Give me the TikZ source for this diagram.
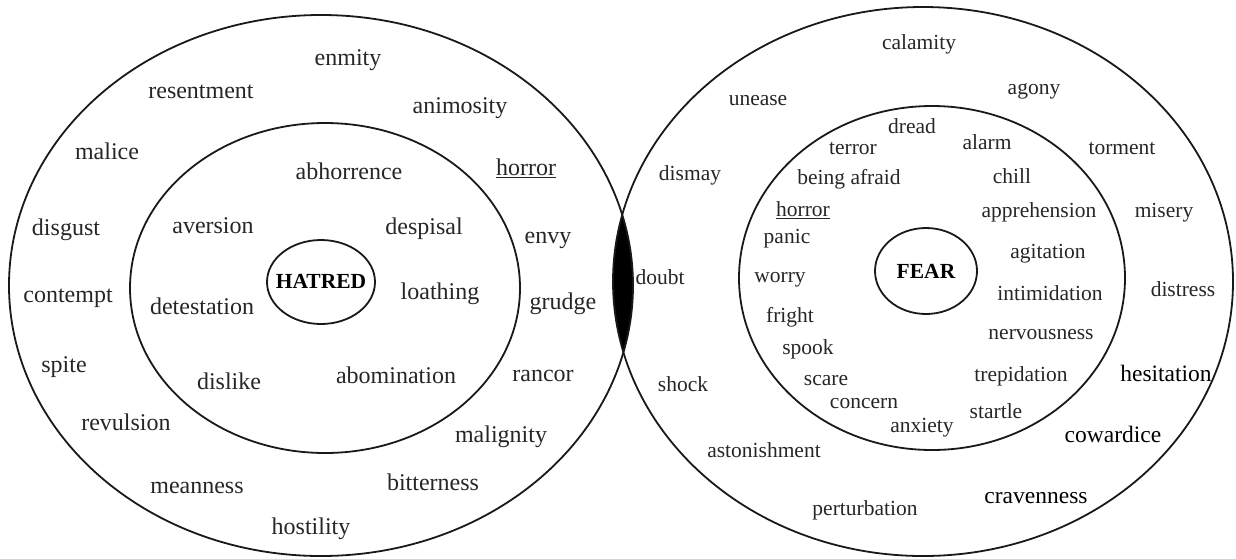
\documentclass[tikz,border=0pt]{standalone}
\usepackage{fontspec}
\setmainfont{Liberation Serif}
\begin{document}
\begin{tikzpicture}[x=1pt,y=-1pt,
  ring/.style={line width=1.8pt, draw=black!90},
  wl/.style={font=\fontsize{24}{28}\selectfont, inner sep=0pt, text=black!85, text height=0.68em, text depth=0.2em, yshift=-5pt},
  wr/.style={font=\fontsize{21.5}{26}\selectfont, inner sep=0pt, text=black!85, text height=0.68em, text depth=0.2em, yshift=-5pt},
  wb/.style={font=\fontsize{23.5}{28}\selectfont, inner sep=0pt, text=black, text height=0.68em, text depth=0.2em, yshift=-5pt},
  core/.style={font=\bfseries\fontsize{21.5}{26}\selectfont, inner sep=0pt, text=black}]
\useasboundingbox (0,0) rectangle (1236,558);
% lens
\begin{scope}
  \clip (321,285.5) ellipse [x radius=312pt, y radius=270.5pt];
  \fill[black] (923,281.5) ellipse [x radius=310pt, y radius=274.5pt];
\end{scope}
% rings
\draw[ring] (321,285.5) ellipse [x radius=312pt, y radius=270.5pt];
\draw[ring] (923,281.5) ellipse [x radius=310pt, y radius=274.5pt];
\draw[ring] (325,288) ellipse [x radius=195pt, y radius=165pt];
\draw[ring] (932,278) ellipse [x radius=193pt, y radius=172pt];
\draw[ring] (321,282) ellipse [x radius=54pt, y radius=42pt];
\draw[ring] (926,271) ellipse [x radius=51pt, y radius=43pt];
% centre labels
\node[core] (hatred) at (321,281) {HATRED};
\node[core] (fear) at (926,271) {FEAR};
% left outer
\node[wl] (enmity) at (348,58) {enmity};
\node[wl] (resentment) at (201,91) {resentment};
\node[wl] (animosity) at (460,106) {animosity};
\node[wl] (malice) at (107,152) {malice};
\node[wl] (horrorL) at (526,168) {\underline{horror}};
\node[wl] (disgust) at (66,228) {disgust};
\node[wl] (envy) at (548,236) {envy};
\node[wl] (contempt) at (68,295) {contempt};
\node[wl] (grudge) at (563,302) {grudge};
\node[wl] (spite) at (64,365) {spite};
\node[wl] (rancor) at (543,374) {rancor};
\node[wl] (revulsion) at (126,423) {revulsion};
\node[wl] (malignity) at (501,435) {malignity};
\node[wl] (meanness) at (197,486) {meanness};
\node[wl] (bitterness) at (433,483) {bitterness};
\node[wl] (hostility) at (311,527) {hostility};
% left inner
\node[wl] (abhorrence) at (349,172) {abhorrence};
\node[wl] (aversion) at (213,226) {aversion};
\node[wl] (despisal) at (424,227) {despisal};
\node[wl] (loathing) at (440,292) {loathing};
\node[wl] (detestation) at (202,307) {detestation};
\node[wl] (dislike) at (229,382) {dislike};
\node[wl] (abomination) at (396,376) {abomination};
% right outer
\node[wr] (calamity) at (919,42) {calamity};
\node[wr] (agony) at (1034,87) {agony};
\node[wr] (unease) at (758,98) {unease};
\node[wr] (torment) at (1122,147) {torment};
\node[wr] (dismay) at (690,173) {dismay};
\node[wr] (misery) at (1164,210) {misery};
\node[wr] (doubt) at (660,277) {doubt};
\node[wr] (distress) at (1183,289) {distress};
\node[wr] (shock) at (683,384) {shock};
\node[wb] (hesitation) at (1166,374) {hesitation};
\node[wb] (cowardice) at (1113,435) {cowardice};
\node[wr] (astonishment) at (764,450) {astonishment};
\node[wr] (perturbation) at (865,508) {perturbation};
\node[wb] (cravenness) at (1036,496) {cravenness};
% right inner
\node[wr] (dread) at (912,126) {dread};
\node[wr] (terror) at (853,147) {terror};
\node[wr] (alarm) at (987,142) {alarm};
\node[wr] (afraid) at (849,177) {being afraid};
\node[wr] (chill) at (1012,176) {chill};
\node[wr] (horrorR) at (803,209) {\underline{horror}};
\node[wr] (apprehension) at (1039,210) {apprehension};
\node[wr] (panic) at (787,236) {panic};
\node[wr] (agitation) at (1048,251) {agitation};
\node[wr] (worry) at (780,275) {worry};
\node[wr] (intimidation) at (1050,293) {intimidation};
\node[wr] (fright) at (790,315) {fright};
\node[wr] (nervousness) at (1041,332) {nervousness};
\node[wr] (spook) at (808,347) {spook};
\node[wr] (scare) at (826,378) {scare};
\node[wr] (trepidation) at (1021,374) {trepidation};
\node[wr] (concern) at (864,401) {concern};
\node[wr] (startle) at (996,411) {startle};
\node[wr] (anxiety) at (922,425) {anxiety};
\end{tikzpicture}
\end{document}
